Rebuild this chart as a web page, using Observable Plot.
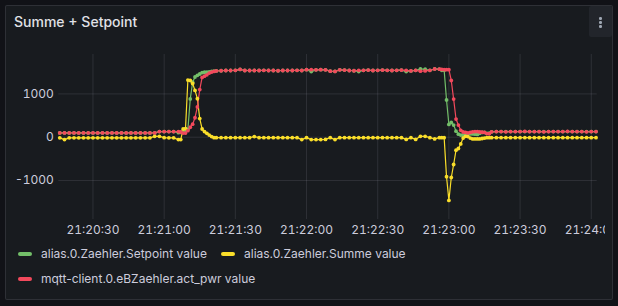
<!DOCTYPE html>
<html><head><meta charset="utf-8">
<script src="https://cdn.jsdelivr.net/npm/d3@7"></script>
<script src="https://cdn.jsdelivr.net/npm/@observablehq/plot@0.6"></script>
<style>
html,body{margin:0;padding:0;background:#111217;width:618px;height:306px;overflow:hidden;font-family:Inter,"Noto Sans",sans-serif;}
#panel{position:absolute;left:5px;top:5px;width:606px;height:293px;background:#181b1f;border:1px solid rgba(204,204,220,0.12);border-radius:2px;}
#title{position:absolute;left:14px;top:13px;font-size:14px;font-weight:500;color:#e0e1e6;line-height:18px;white-space:nowrap;}
#menu{position:absolute;left:589px;top:6px;width:23px;height:31px;background:#22252b;border-radius:2px;}
#menu i{position:absolute;left:10px;width:2.5px;height:2.5px;border-radius:50%;background:#9fa7b3;}
#chart{position:absolute;left:0;top:44px;}
#chart svg{overflow:hidden;}
.li{position:absolute;font-size:12px;color:#ccccdc;line-height:16px;white-space:nowrap;}
.sw{display:inline-block;width:14px;height:4px;border-radius:2px;vertical-align:middle;margin-right:9px;position:relative;top:-1px;}
</style></head>
<body>
<div id="panel"></div>
<div id="title">Summe + Setpoint</div>
<div id="menu"><i style="top:11px"></i><i style="top:15px"></i><i style="top:19px"></i></div>
<div id="chart"></div>
<div id="legend"></div>
<script>
const seriesNames = ["alias.0.Zaehler.Setpoint value", "alias.0.Zaehler.Summe value", "mqtt-client.0.eBZaehler.act_pwr value"];
const seriesColors = ["#73BF69", "#FADE2A", "#F2495C"];
const baseTime = "2023-01-01T21:21:00Z";
const tickLabels = ["21:20:30","21:21:00","21:21:30","21:22:00","21:22:30","21:23:00","21:23:30","21:24:00"];
const yTicks = [-1000, 0, 1000];
const yDomain = [-1900, 1910];
const xDomainSecs = [-44.4, 182.5];

// seconds relative to 21:21:00
const secs = [
 -44,-42,-40,-38,-36,-34,-32,-30,-28,-26,-24,-22,-20,-18,-16,-14,-12,-10,-8,-6,-4,-2,0,2,4,6,
 7,8,9,10,11,12,13,14,15,16,17,18,19,20,21,22,
 24,26,28,30,32,34,36,38,40,42,44,46,48,50,52,54,56,58,60,62,64,66,68,70,72,74,76,78,80,82,84,86,88,90,92,94,96,98,100,102,104,106,108,110,112,114,116,
 117,118,119,120,121,122,123,124,125,126,127,128,129,130,131,132,133,134,135,136,137,138,
 140,142,144,146,148,150,152,154,156,158,160,162,164,166,168,170,172,174,176,178,180,182
];

const setpoint = [
 100,100,100,100,100,100,100,100,100,100,100,100,100,100,100,100,100,100,100,100,100,130,130,130,130,105,
 110,150,160,180,885,1270,1390,1430,1460,1490,1500,1505,1510,1520,1525,1530,
 1535,1540,1540,1545,1565,1540,1540,1540,1540,1545,1540,1540,1535,1540,1540,1540,1545,1540,1560,1515,1555,1560,1555,1525,1520,1555,1550,1540,1535,1515,1545,1550,1540,1545,1550,1545,1540,1545,1550,1515,1530,1545,1575,1570,1545,1575,1570,
 1545,1545,860,295,340,280,140,70,50,45,60,75,80,75,70,65,90,110,110,90,95,125,
 130,130,130,130,130,130,130,130,130,130,130,130,130,130,130,130,130,130,130,130,130,130
];

const summe = [
 -15,-55,-15,-15,-15,-15,-15,-15,-15,-15,-15,-15,-15,-15,-15,-15,-15,-15,-15,-15,20,20,-10,-15,-15,-55,
 -55,190,200,1320,1310,1240,1080,890,430,190,130,90,50,15,-10,-10,
 -10,-10,-10,-10,-10,-10,-10,15,-10,-10,-10,-10,-10,-10,-10,-10,-10,-55,-10,-55,-55,-55,-50,-10,-55,-10,-10,-10,-10,-10,-10,-10,-10,-10,-10,-10,-10,-10,-10,-50,-10,-50,20,20,-10,-40,-10,
 -10,-10,-910,-1460,-930,-630,-300,-260,-155,-20,20,15,-20,-40,-40,-40,-40,-30,-20,-10,-10,-10,
 -10,-10,-10,-10,-10,-10,-10,-10,-10,-10,-10,-10,-10,-10,-10,-10,-10,-10,-10,-10,-10,-10
];

const actPwr = [
 100,100,100,100,100,100,100,100,100,100,100,100,100,100,100,100,100,100,100,100,100,130,130,130,130,130,
 120,95,95,150,230,300,450,700,1100,1380,1410,1440,1480,1505,1520,1530,
 1535,1540,1540,1545,1565,1540,1540,1540,1540,1545,1540,1540,1535,1540,1540,1540,1545,1540,1560,1560,1555,1560,1555,1525,1520,1555,1550,1540,1535,1545,1545,1550,1540,1545,1550,1545,1540,1545,1550,1545,1530,1545,1525,1530,1545,1575,1570,
 1565,1560,1560,1560,1310,880,420,280,160,120,110,100,110,125,130,130,120,115,110,85,80,125,
 130,130,125,130,130,130,135,130,130,130,125,130,130,130,130,135,130,130,130,125,130,130
];

const base = new Date(baseTime).getTime();
const toDate = s => new Date(base + s * 1000);
const valueSets = [setpoint, summe, actPwr];
const rows = [];
valueSets.forEach((vals, k) => secs.forEach((s, i) => rows.push({time: toDate(s), value: vals[i], series: seriesNames[k]})));
const tickDates = tickLabels.map(l => new Date("2023-01-01T" + l + "Z"));

const plot = Plot.plot({
  width: 605, height: 200,
  marginLeft: 58.3, marginRight: 8.3, marginTop: 10, marginBottom: 25,
  style: {background: "transparent", color: "#ccccdc", fontFamily: "Inter, 'Noto Sans', sans-serif", fontSize: "12px"},
  x: {type: "utc", domain: xDomainSecs.map(toDate), ticks: tickDates, tickFormat: d3.utcFormat("%H:%M:%S"), tickSize: 0, tickPadding: 6, label: null},
  y: {domain: yDomain, ticks: yTicks, tickSize: 0, tickPadding: 5, label: null, tickFormat: d => String(d)},
  color: {domain: seriesNames, range: seriesColors},
  marks: [
    Plot.gridX(tickDates, {stroke: "rgba(204,204,220,0.12)", strokeOpacity: 1}),
    Plot.gridY(yTicks, {stroke: "rgba(204,204,220,0.12)", strokeOpacity: 1}),
    ...seriesNames.map(n => Plot.line(rows.filter(r => r.series === n), {x: "time", y: "value", stroke: "series", strokeWidth: 1.2})),
    ...seriesNames.map(n => Plot.dot(rows.filter(r => r.series === n), {x: "time", y: "value", fill: "series", r: 1.9, stroke: "none"}))
  ]
});
document.getElementById("chart").appendChild(plot);

const legendPos = [[18, 246], [221, 246], [18, 271]];
const lg = document.getElementById("legend");
seriesNames.forEach((n, k) => {
  const d = document.createElement("div");
  d.className = "li";
  d.style.left = legendPos[k][0] + "px";
  d.style.top = legendPos[k][1] + "px";
  d.innerHTML = `<span class="sw" style="background:${seriesColors[k]}"></span>`;
  d.appendChild(document.createTextNode(n));
  lg.appendChild(d);
});
</script>
</body></html>
